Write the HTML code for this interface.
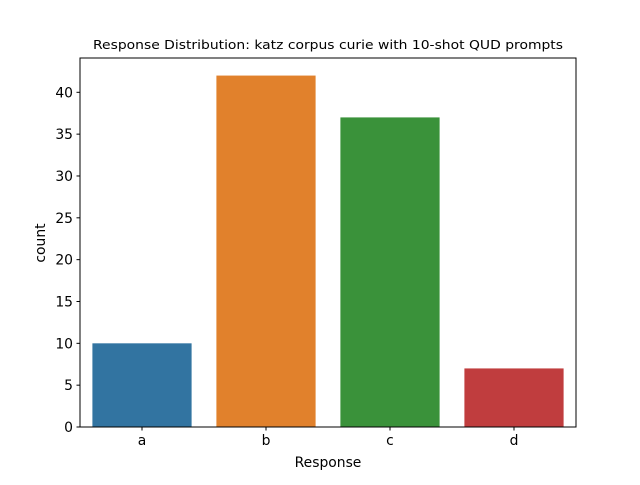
<!DOCTYPE html>
<html><head><meta charset="utf-8"><style>body{margin:0;background:#fff}svg{font-family:"DejaVu Sans","Liberation Sans",sans-serif}</style></head>
<body>
<svg id="chart" width="640" height="480">
<rect width="640" height="480" fill="#fff"/>
<text x="328" y="49" text-anchor="middle" font-size="12.5" textLength="470" lengthAdjust="spacingAndGlyphs">Response Distribution: katz corpus curie with 10-shot QUD prompts</text>
<g id="bars"></g><g id="axes"></g>
<rect x="80" y="58" width="496" height="369" fill="none" stroke="#000" stroke-width="1"/>
<text x="328" y="467" text-anchor="middle" font-size="13.9">Response</text>
<text transform="translate(45,243) rotate(-90)" text-anchor="middle" font-size="13.9">count</text>
</svg>
<script>
const categories=["a","b","c","d"];
const counts=[10,42,37,7];
const colors=["#3274a1","#e1812c","#3a923a","#c03d3e"];
const yTicks=[0,5,10,15,20,25,30,35,40];
const L=80,R=576,T=58,B=427,yMax=Math.max(...counts)*1.05;
const xs=i=>L+(i+0.5)*(R-L)/categories.length;
const ys=v=>B-v*(B-T)/yMax;
const NS="http://www.w3.org/2000/svg";
const bars=document.getElementById('bars'),axes=document.getElementById('axes');
const bw=0.8*(R-L)/categories.length;
categories.forEach((c,i)=>{
 const r=document.createElementNS(NS,'rect');
 r.setAttribute('x',xs(i)-bw/2);r.setAttribute('y',ys(counts[i]));
 r.setAttribute('width',bw);r.setAttribute('height',B-ys(counts[i]));
 r.setAttribute('fill',colors[i]);
 
 
 bars.appendChild(r);
 const t=document.createElementNS(NS,'line');
 t.setAttribute('x1',xs(i));t.setAttribute('x2',xs(i));t.setAttribute('y1',B);t.setAttribute('y2',B+3.5);t.setAttribute('stroke','#000');
 
 
 axes.appendChild(t);
 const l=document.createElementNS(NS,'text');
 l.setAttribute('x',xs(i));l.setAttribute('y',B+18);l.setAttribute('text-anchor','middle');l.setAttribute('font-size','13.9');l.textContent=c;
 
 
 axes.appendChild(l);
});
yTicks.forEach(v=>{
 const t=document.createElementNS(NS,'line');
 t.setAttribute('x1',L-3.5);t.setAttribute('x2',L);t.setAttribute('y1',ys(v));t.setAttribute('y2',ys(v));t.setAttribute('stroke','#000');
 
 
 axes.appendChild(t);
 const l=document.createElementNS(NS,'text');
 l.setAttribute('x',L-7);l.setAttribute('y',ys(v)+5);l.setAttribute('text-anchor','end');l.setAttribute('font-size','13.9');l.textContent=v;
 
 
 axes.appendChild(l);
});
</script>
</body></html>
